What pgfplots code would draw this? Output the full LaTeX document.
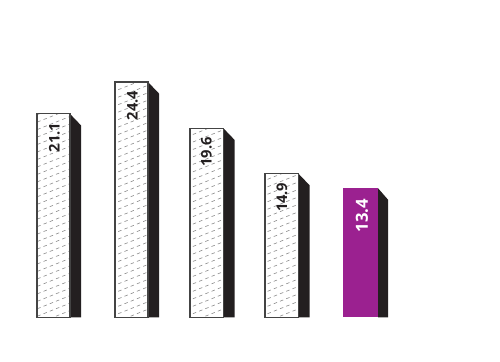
\documentclass[border=0pt]{standalone}
\usepackage{pgfplots}
\pgfplotsset{compat=1.18}
\usepackage{fontspec}
\setmainfont{Open Sans}
\usetikzlibrary{patterns}
\definecolor{sidec}{HTML}{231F20}
\definecolor{purp}{HTML}{9B2190}
\definecolor{edgec}{HTML}{444444}
\definecolor{hatchc}{HTML}{8C8C8C}
\pgfdeclarepatternformonly{dashhatch}{\pgfqpoint{-1pt}{-1pt}}{\pgfqpoint{15pt}{6.6pt}}{\pgfqpoint{14pt}{5.6pt}}{%
  \pgfsetlinewidth{0.45pt}\pgfsetdash{{2.6pt}{2.43pt}}{0pt}%
  \pgfpathmoveto{\pgfqpoint{0pt}{0pt}}\pgfpathlineto{\pgfqpoint{14pt}{5.6pt}}\pgfusepath{stroke}}
\begin{document}
\begin{tikzpicture}
\begin{axis}[width=375pt,height=270.75pt,scale only axis,
  xmin=0,xmax=500,ymin=-4.508,ymax=32.902,hide axis,clip=false]
\path (rel axis cs:0,0) rectangle (rel axis cs:1,1);
% sides
\addplot[fill=sidec,draw=none] coordinates {(70,0) (70,21.1) (81,19.91) (81,0)} --cycle;
\addplot[fill=sidec,draw=none] coordinates {(148,0) (148,24.4) (159,23.21) (159,0)} --cycle;
\addplot[fill=sidec,draw=none] coordinates {(223.5,0) (223.5,19.6) (234.5,18.41) (234.5,0)} --cycle;
\addplot[fill=sidec,draw=none] coordinates {(298.5,0) (298.5,14.9) (309.5,13.71) (309.5,0)} --cycle;
\addplot[fill=sidec,draw=none] coordinates {(378,0) (378,13.4) (388,12.21) (388,0)} --cycle;
% fronts
\addplot[fill=white,draw=none] coordinates {(37,0) (37,21.1) (70,21.1) (70,0)} --cycle;
\addplot[pattern=dashhatch,pattern color=hatchc,draw=edgec,line width=0.9pt] coordinates {(37,0) (37,21.1) (70,21.1) (70,0)} --cycle;
\addplot[fill=white,draw=none] coordinates {(115,0) (115,24.4) (148,24.4) (148,0)} --cycle;
\addplot[pattern=dashhatch,pattern color=hatchc,draw=edgec,line width=0.9pt] coordinates {(115,0) (115,24.4) (148,24.4) (148,0)} --cycle;
\addplot[fill=white,draw=none] coordinates {(190,0) (190,19.6) (223.5,19.6) (223.5,0)} --cycle;
\addplot[pattern=dashhatch,pattern color=hatchc,draw=edgec,line width=0.9pt] coordinates {(190,0) (190,19.6) (223.5,19.6) (223.5,0)} --cycle;
\addplot[fill=white,draw=none] coordinates {(265,0) (265,14.9) (298.5,14.9) (298.5,0)} --cycle;
\addplot[pattern=dashhatch,pattern color=hatchc,draw=edgec,line width=0.9pt] coordinates {(265,0) (265,14.9) (298.5,14.9) (298.5,0)} --cycle;
\addplot[fill=purp,draw=none] coordinates {(343,0) (343,13.4) (378,13.4) (378,0)} --cycle;
% labels
\addplot[only marks,mark=none,nodes near coords,point meta=explicit symbolic,
  nodes near coords style={yshift=-6.5pt,rotate=90,anchor=east,inner sep=0pt,
    font=\bfseries\fontsize{11}{13}\selectfont,text=sidec}]
  coordinates {(54.5,21.1)[21.1] (132.5,24.4)[24.4] (206.5,19.6)[19.6] (282,14.9)[14.9]};
\addplot[only marks,mark=none,nodes near coords,point meta=explicit symbolic,
  nodes near coords style={yshift=-8pt,rotate=90,anchor=east,inner sep=0pt,
    font=\bfseries\fontsize{12.5}{14}\selectfont,text=white}]
  coordinates {(362,13.4)[13.4]};
\end{axis}
\end{tikzpicture}
\end{document}
